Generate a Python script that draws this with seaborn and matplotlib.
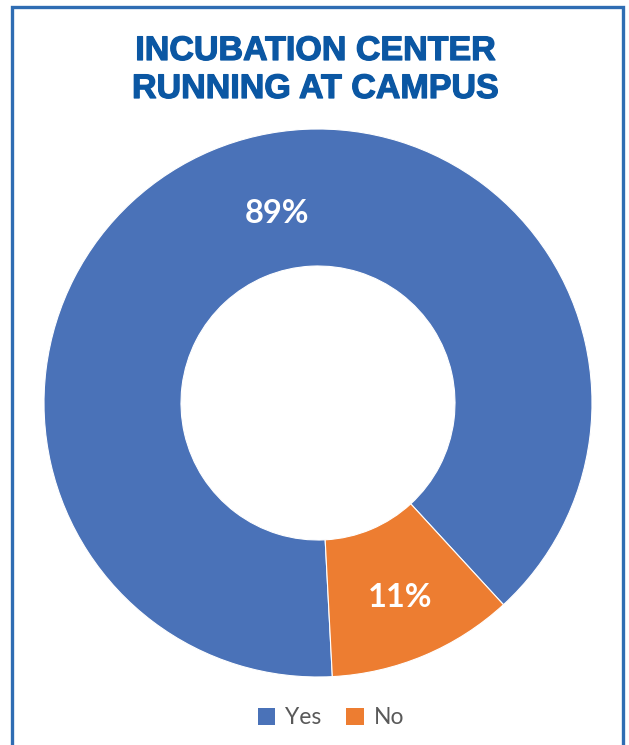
import matplotlib
matplotlib.use("Agg")
import matplotlib.pyplot as plt
import matplotlib.patheffects as pe
from matplotlib.patches import Rectangle, Patch
import seaborn as sns

# Survey answers: is an incubation center running at the campus?
categories = ["Yes", "No"]
shares = [89, 11]
colors = ["#4A72B8", "#ED7D31"]
title_lines = ["INCUBATION CENTER", "RUNNING AT CAMPUS"]

sns.set_theme(style="white")
plt.rcParams["font.family"] = ["Lato", "DejaVu Sans"]

W, H = 629, 745
fig = plt.figure(figsize=(W / 100, H / 100), dpi=100)
fig.patch.set_facecolor("white")

# Frame around the whole chart (bottom edge runs off the page)
fig.patches.append(Rectangle((12 / W, -0.02), (622.5 - 12) / W, 1.02 - 7 / H,
                             transform=fig.transFigure, fill=False,
                             edgecolor="#2F6DB3", linewidth=2.4))

# Donut axes: centre (318, 403), outer radius 274 px
cx, cy, r = 318, 403, 274
ax = fig.add_axes([(cx - r) / W, (H - cy - r) / H, 2 * r / W, 2 * r / H])
wedges, _, autotexts = ax.pie(
    shares, colors=colors, startangle=-87, counterclock=False,
    radius=1.0, autopct="%d%%", pctdistance=0.77,
    wedgeprops=dict(width=0.5, edgecolor="white", linewidth=0.8),
    textprops=dict(color="white", fontsize=23.5, fontweight="bold"),
)
autotexts[0].set_position((-0.15, 0.69))
ax.set_xlim(-1, 1)
ax.set_ylim(-1, 1)
ax.set_aspect("equal")
ax.axis("off")

# Title, drawn with a thin stroke for a heavier look
title_color = "#0B57A3"
for i, line in enumerate(title_lines):
    fig.text(0.5 + 0.5 / W, 1 - (51.5 + i * 38) / H, line, ha="center", va="center",
             fontsize=24.5, fontweight="bold", color=title_color,
             family=["Liberation Sans", "DejaVu Sans"],
             path_effects=[pe.withStroke(linewidth=0.9, foreground=title_color)])

# Legend
handles = [Patch(facecolor=c, edgecolor="none") for c in colors]
fig.legend(handles, categories, loc="center", bbox_to_anchor=(331 / W, 1 - 718 / H),
           ncol=2, frameon=False, fontsize=16.5, labelcolor="#595959",
           handlelength=0.75, handleheight=0.75, handletextpad=0.45,
           columnspacing=1.1)

fig.savefig("out.png", dpi=100, facecolor="white")
